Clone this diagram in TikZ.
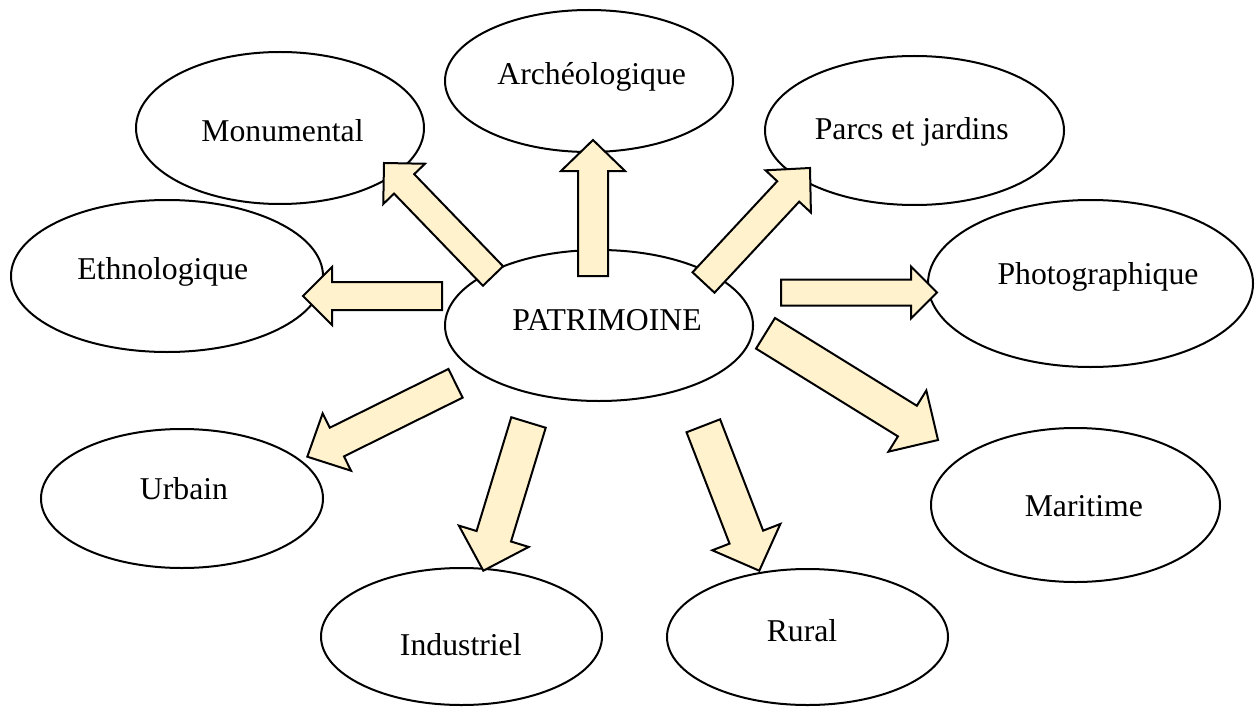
\documentclass[tikz,border=0pt]{standalone}
\usepackage{fontspec}
\setmainfont{Liberation Serif}
\usetikzlibrary{shapes.geometric,calc}
\definecolor{arrowfill}{HTML}{FFF2CC}
\tikzset{
  ell/.style 2 args={ellipse, draw=black, line width=1.5pt, fill=white,
    minimum width=#1*0.75pt, minimum height=#2*0.75pt, inner sep=0pt},
  lbl/.style={anchor=base, inner sep=0pt, font=\fontsize{23.8pt}{28pt}\selectfont},
  barrow/.style={draw=black, line width=1.5pt, fill=arrowfill, line join=miter}
}
% block arrow: from, to, half shaft width, half head width, head length (px)
\newcommand\blockarrow[5]{%
  \draw[barrow] ($(#1)!#3*0.75pt!90:(#2)$)
    -- ($(#2)!#5*0.75pt!(#1)!#3*0.75pt!-90:(#1)$)
    -- ($(#2)!#5*0.75pt!(#1)!#4*0.75pt!-90:(#1)$)
    -- (#2)
    -- ($(#2)!#5*0.75pt!(#1)!#4*0.75pt!90:(#1)$)
    -- ($(#2)!#5*0.75pt!(#1)!#3*0.75pt!90:(#1)$)
    -- ($(#1)!#3*0.75pt!-90:(#2)$) -- cycle;}
\begin{document}
\begin{tikzpicture}[x=0.75pt, y=-0.75pt]
\useasboundingbox (0,0) rectangle (1255,706);
% ellipses
\node[ell={288}{142}] (arch) at (589,81) {};
\node[ell={288}{152}] (mon) at (280,128) {};
\node[ell={299}{149}] (parc) at (914.5,130.5) {};
\node[ell={312}{152}] (eth) at (167,276) {};
\node[ell={308}{151}] (pat) at (599,325.5) {};
\node[ell={325}{167}] (pho) at (1090.5,283.5) {};
\node[ell={289}{154}] (mar) at (1075.5,505) {};
\node[ell={282}{139}] (urb) at (182,498.5) {};
\node[ell={281}{137}] (ind) at (461.5,636.5) {};
\node[ell={281}{136}] (rur) at (807.5,637) {};
% texts
\node[lbl] (arch-t) at (591.7,85) {Archéologique};
\node[lbl] (mon-t) at (282.5,142) {Monumental};
\node[lbl] (parc-t) at (911.7,140) {Parcs et jardins};
\node[lbl] (eth-t) at (162.8,279) {Ethnologique};
\node[lbl] (pat-t) at (607,330) {PATRIMOINE};
\node[lbl] (pho-t) at (1098,284) {Photographique};
\node[lbl] (mar-t) at (1083.8,516.7) {Maritime};
\node[lbl] (urb-t) at (184,499.3) {Urbain};
\node[lbl] (ind-t) at (460.8,655) {Industriel};
\node[lbl] (rur-t) at (802,641.7) {Rural};
% arrow end points
\coordinate (a1s) at (593,276);     \coordinate (a1e) at (593,140);
\coordinate (a2s) at (493,276);     \coordinate (a2e) at (384,163);
\coordinate (a3s) at (703.5,282.5); \coordinate (a3e) at (810,168);
\coordinate (a4s) at (442,296);     \coordinate (a4e) at (303,296);
\coordinate (a5s) at (781,292.5);   \coordinate (a5e) at (937,292.5);
\coordinate (a6s) at (765.5,333.3); \coordinate (a6e) at (938,440);
\coordinate (a7s) at (455.5,383.3); \coordinate (a7e) at (307.3,456.7);
\coordinate (a8s) at (528.5,422.5); \coordinate (a8e) at (483.3,570.7);
\coordinate (a9s) at (703.3,425.8); \coordinate (a9e) at (759.3,570.7);
% arrows
\blockarrow{a1s}{a1e}{15}{32}{31}
\blockarrow{a2s}{a2e}{14}{29}{29}
\blockarrow{a3s}{a3e}{15}{31}{32}
\blockarrow{a4s}{a4e}{14}{29}{29}
\blockarrow{a5s}{a5e}{13}{26}{26}
\blockarrow{a6s}{a6e}{18}{36}{36}
\blockarrow{a7s}{a7e}{16}{32}{33}
\blockarrow{a8s}{a8e}{18}{36.5}{36}
\blockarrow{a9s}{a9e}{18}{36.5}{36}
\end{tikzpicture}
\end{document}
